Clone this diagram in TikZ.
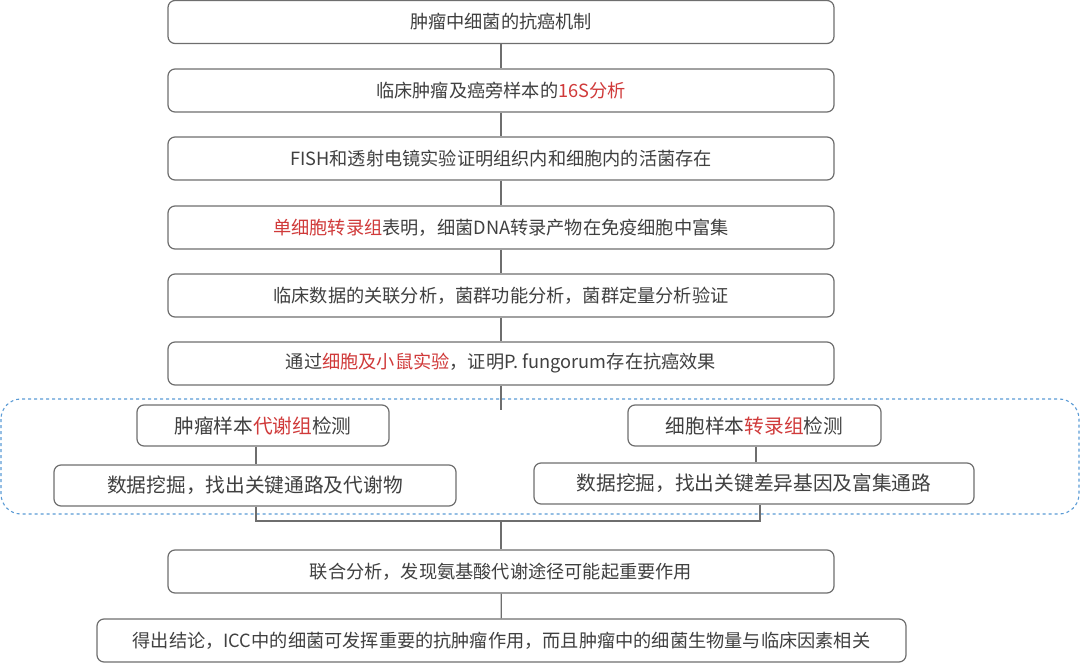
\documentclass[tikz,border=0pt]{standalone}
\usepackage{fontspec}
\setmainfont{Noto Sans CJK SC}
\definecolor{txt}{HTML}{404040}
\definecolor{edge}{HTML}{6E6E6E}
\definecolor{hl}{HTML}{D03A3A}
\definecolor{dash}{HTML}{5B9BD5}
\newcommand{\hlt}[1]{\textcolor{hl}{#1}}
\tikzset{
  box/.style={draw=edge, line width=1.2pt, rounded corners=7pt, fill=white, text=txt, inner sep=0pt, font=\fontsize{18.2}{22}\selectfont},
  sbox/.style={box, font=\fontsize{19.7}{23}\selectfont},
  link/.style={draw=edge, line width=1.3pt},
  group/.style={draw=dash, dashed, line width=1.1pt, rounded corners=20pt}
}
\begin{document}
\begin{tikzpicture}[x=1pt,y=-1pt]
\useasboundingbox (0,0) rectangle (1080,663);
\draw[group] (1,399) rectangle (1079,514);
\node[box, minimum width=666, minimum height=43] (b1) at (501,22) {肿瘤中细菌的抗癌机制};
\node[box, minimum width=666, minimum height=43] (b2) at (501,90.5) {临床肿瘤及癌旁样本的\hlt{16S分析}};
\node[box, minimum width=666, minimum height=43] (b3) at (501,158.5) {FISH和透射电镜实验证明组织内和细胞内的活菌存在};
\node[box, minimum width=666, minimum height=43] (b4) at (501,227.5) {\hlt{单细胞转录组}表明，细菌DNA转录产物在免疫细胞中富集};
\node[box, minimum width=666, minimum height=43] (b5) at (501,295.5) {临床数据的关联分析，菌群功能分析，菌群定量分析验证};
\node[box, minimum width=666, minimum height=43] (b6) at (501,363.5) {通过\hlt{细胞及小鼠实验}，证明P. fungorum存在抗癌效果};
\node[sbox, minimum width=252, minimum height=41] (l1) at (263,425.5) {肿瘤样本\hlt{代谢组}检测};
\node[sbox, minimum width=402, minimum height=41] (l2) at (255,485.5) {数据挖掘，找出关键通路及代谢物};
\node[sbox, minimum width=253, minimum height=41] (r1) at (754.5,425.5) {细胞样本\hlt{转录组}检测};
\node[sbox, minimum width=440, minimum height=41] (r2) at (754,483.5) {数据挖掘，找出关键差异基因及富集通路};
\node[box, minimum width=666, minimum height=43] (b9) at (501,571.5) {联合分析，发现氨基酸代谢途径可能起重要作用};
\node[box, minimum width=809, minimum height=43] (b10) at (501.5,640.5) {得出结论，ICC中的细菌可发挥重要的抗肿瘤作用，而且肿瘤中的细菌生物量与临床因素相关};
\coordinate (t6) at (501,410);
\coordinate (jl) at (256,521);
\coordinate (jr) at (760,521);
\coordinate (jm) at (501,521);
\draw[link] (b1) -- (b2);
\draw[link] (b2) -- (b3);
\draw[link] (b3) -- (b4);
\draw[link] (b4) -- (b5);
\draw[link] (b5) -- (b6);
\draw[link] (b6) -- (t6);
\draw[link] (l1.south -| jl) -- (l2.north -| jl);
\draw[link] (r1.south -| 756,0) -- (r2.north -| 756,0);
\draw[link] (l2.south -| jl) -- (jl) -- (jr) -- (r2.south -| jr);
\draw[link] (jm) -- (b9);
\draw[link] (b9) -- (b10);
\end{tikzpicture}
\end{document}
